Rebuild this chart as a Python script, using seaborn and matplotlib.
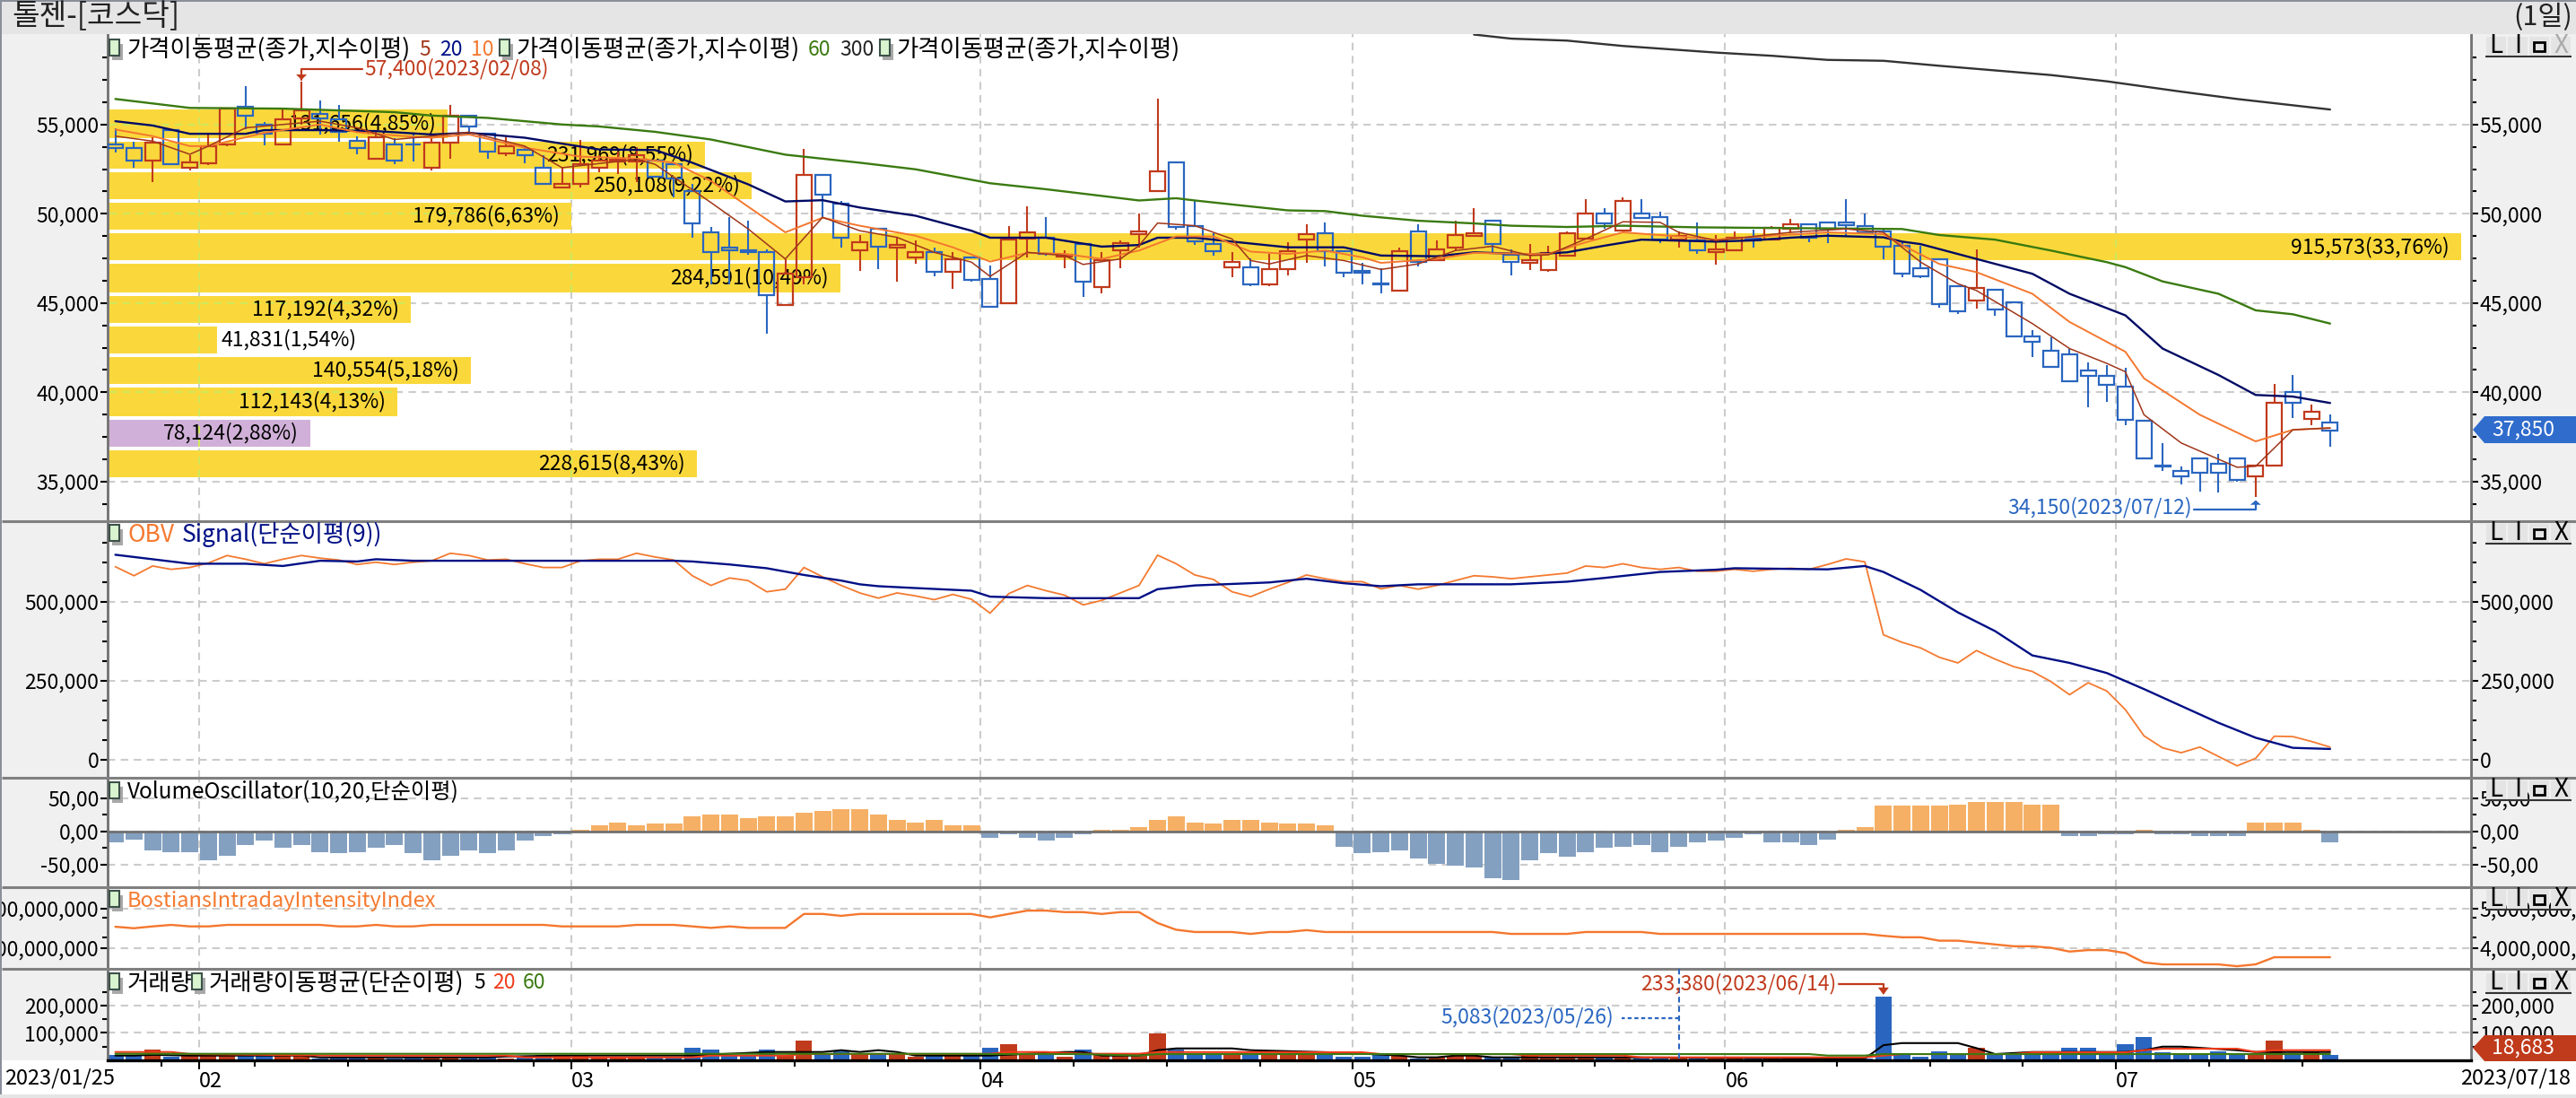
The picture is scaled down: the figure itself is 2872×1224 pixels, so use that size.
import numpy as np
import matplotlib
matplotlib.use("Agg")
import matplotlib.pyplot as plt
from matplotlib.patches import Rectangle, Polygon
import seaborn as sns

# candles, oldest first (2023/01/25 .. 2023/07/18)
opens = [53895,53693,52957,54700,52555,52840,53860,55985,54966,53860,
         55350,55575,55300,54095,53057,53895,53895,52555,53960,55500,
         54500,53360,53590,52590,51450,51667,52588,52930,52930,52957,
         52755,51280,48970,48100,47970,47850,44900,46460,52190,50580,
         47950,49170,48130,47530,47865,46725,47560,46350,45000,48600,
         48680,47580,48300,45880,47965,48865,51265,52900,49300,48300,
         46980,47000,46065,46880,48580,48900,47900,46815,46100,45680,
         49000,47400,48100,48765,49600,47700,47265,46865,47665,48600,
         50000,49065,50000,49800,48565,48500,47865,47965,48615,48565,
         49165,49400,49500,49500,49300,49000,48200,46950,47435,45950,
         45150,45740,45055,43120,42340,42120,41225,40930,40335,38420,
         35910,35575,36280,35985,36280,35280,35890,40000,38510,38305]
closes = [53693,52957,53995,52790,52890,53760,55910,55500,54500,55300,
          55800,55350,54600,53660,54263,52957,53860,53995,55500,54870,
          53460,53795,53260,51650,51667,52755,52957,53020,53260,52087,
          51950,49455,47865,47970,47850,45440,46640,52190,51080,48650,
          48430,48150,48280,47865,46725,47430,46320,44810,48570,48980,
          47765,47715,46180,47400,48380,49000,52400,49265,48480,47880,
          47300,46065,46900,47880,48880,47880,46680,46680,46060,47880,
          47300,47985,48800,48915,48300,47280,47415,47800,48900,50000,
          49465,50700,49780,48565,48765,47965,48015,48665,48515,49200,
          49400,48680,49180,49350,48965,48165,46665,46505,44945,44535,
          45835,44630,43120,42825,41410,40595,40930,40410,38475,36280,
          35835,35280,35500,35500,35075,35890,39405,39405,38920,37850]
highs = [54800,54012,54263,54700,53290,54515,55950,57140,55134,55930,
         57400,56340,56115,54330,54665,54230,54515,54263,56115,55500,
         54500,54300,53795,53290,52590,54130,53260,53480,53730,52957,
         52755,51667,49270,49820,49600,47985,47450,53630,52190,50720,
         48820,49170,48700,48490,48100,47865,47560,47080,49330,50430,
         49830,47930,48300,47830,48515,50015,56430,52900,50765,48930,
         47830,47515,47765,48430,49430,49515,47900,47230,46930,48100,
         49430,48515,49600,50315,49600,48000,48330,48230,49015,50835,
         50335,50930,50835,50130,49015,49515,48830,49015,49130,49330,
         49730,49400,49500,50835,50015,49130,48430,48215,47435,45950,
         47990,45740,45055,43475,43100,42450,41670,41525,41375,38420,
         37140,35855,36280,36540,36280,35890,40445,40965,39330,38735]
lows = [53425,52555,51750,52790,52420,52720,53800,54720,53845,53830,
        55000,54440,54045,53340,53057,52755,52920,52420,53057,54464,
        53057,53225,52840,51650,51450,51450,52340,52220,51750,52087,
        50915,48650,46060,46060,47710,43300,44900,46060,49835,48100,
        46810,46890,46190,47200,46520,45800,46220,44810,45000,47565,
        47665,46930,45350,45530,46930,48100,51265,49130,48265,47630,
        46430,45930,45930,46530,47235,47030,46430,46050,45530,45680,
        47065,47400,47930,48765,47850,46565,46850,46765,47665,48600,
        49180,49065,49780,48350,48130,47765,47130,47965,48130,48565,
        48930,48430,48350,48765,48965,47465,46465,46390,44720,44400,
        44685,44310,43120,41990,41410,40595,39180,39480,38180,36280,
        35575,34835,34460,34370,34980,34150,35890,38550,38140,36970]

# price moving averages, read at the bends
ma5_idx = [0,2,4,5,7,11,13,15,17,19,22,24,28,29,32,34,36,38,40,42,44,46,47,49,51,52,54,55,56,58,60,61,
           62,64,66,68,70,72,74,76,77,79,81,83,84,86,90,93,95,96,97,99,100,103,105,107,108,109,111,114,115,117,119]
ma5_val = [54350,54070,53330,53790,54815,55185,54815,54160,54350,54570,53790,52580,53050,52770,50630,49150,
           47470,49800,49050,48680,47840,47290,46490,47840,47660,47160,47470,48210,49480,49330,48590,47380,
           47190,47660,47380,46880,47190,47940,48180,47660,47700,48590,49550,49520,48960,48500,48960,49150,
           48960,48120,47290,46080,45700,43850,42450,41620,41150,38740,37160,35800,35855,37900,38000]
ma10_idx = [0,2,4,5,8,11,13,15,17,19,22,25,28,30,32,36,38,40,43,45,47,49,51,53,55,57,59,61,63,65,67,
            68,71,73,76,77,79,81,84,86,89,92,95,96,98,100,103,105,108,109,112,115,117,119]
ma10_val = [54720,54350,53790,53790,54535,55000,54570,54390,54260,54440,53700,53200,53090,52860,51840,
            48960,49780,49330,48770,48120,47320,47810,47750,47470,47940,48730,48730,47880,47750,47940,
            47560,47250,47470,47810,47750,47750,48400,48960,48730,48550,48770,48960,48860,48250,47190,
            46730,45520,43940,42270,40780,38740,37250,37900,38000]
ma20_idx = [0,2,4,7,8,11,14,17,19,22,26,29,31,34,36,38,40,43,46,47,50,53,55,56,58,60,63,66,68,71,
            73,76,78,80,82,86,88,90,92,95,96,97,100,103,105,108,110,113,115,117,119]
ma20_val = [55185,54945,54480,54480,54685,54685,54630,54440,54535,54260,53600,53570,52860,51650,50690,
            50760,50350,49890,49050,48660,48660,48160,48250,48660,48660,48440,48120,48120,47660,47620,
            47840,47730,47840,48210,48550,48440,48510,48660,48770,48680,48440,48300,47470,46640,45520,
            44310,42450,40970,39850,39760,39400]
ma60_idx = [0,4,9,15,17,20,24,26,29,32,36,40,43,47,50,53,55,57,58,61,63,65,67,70,73,75,78,81,85,96,
            98,101,104,107,108,110,113,115,117,119]
ma60_val = [56430,55930,55890,55690,55500,55370,55000,54890,54590,54160,53310,52860,52490,51710,51375,
            51000,50745,50870,50745,50410,50190,50150,49890,49610,49460,49330,49260,49330,49240,49145,
            48810,48550,47940,47290,47010,46210,45520,44590,44370,43850]
ma300_idx = [73,75,78,81,86,89,92,95,98,101,104,107,111,114,119]
ma300_val = [60040,59810,59700,59400,59030,58850,58620,58570,58290,58030,57770,57420,56840,56430,55840]

# volume profile
profile_vol = [131656,231969,250108,179786,915573,284591,117192,41831,140554,112143,78124,228615]
profile_lab = ["131,656(4,85%)","231,969(8,55%)","250,108(9,22%)","179,786(6,63%)","915,573(33,76%)",
               "284,591(10,49%)","117,192(4,32%)","41,831(1,54%)","140,554(5,18%)","112,143(4,13%)",
               "78,124(2,88%)","228,615(8,43%)"]
profile_low = [54238,52528,50818,49108,47398,45595,43885,42175,40465,38662,36952,35242]
profile_high = [55836,54033,52323,50613,48903,47193,45390,43680,41970,40260,38457,36747]

obv = [611460,583000,613800,603200,609100,623300,647000,635200,621000,635200,
       647000,638700,632800,618600,625700,618600,625700,630400,654100,647000,
       632800,635200,621000,609100,609100,630400,635200,635200,654100,642300,
       632800,583000,552200,575900,567600,532100,540400,609100,579500,552200,
       528500,512000,528500,519000,507200,523800,508400,464500,526100,552200,
       535600,521400,490600,504800,528500,552200,648200,620900,585400,571200,
       532100,516700,540400,561700,585400,573500,564100,564100,541500,552200,
       540400,552200,567600,583000,579500,573500,579500,585400,591300,613800,
       609100,620900,609100,603200,609100,597200,597200,603200,597200,603200,
       606700,603200,618600,636300,626900,395800,372100,354300,324700,306900,
       346000,318800,295100,279700,247700,206200,244100,218000,158800,75800,
       37900,22500,40300,10700,-19000,4700,74700,73500,58100,40300]
sig_idx = [0,2,4,7,9,11,13,14,16,30,31,33,35,37,39,40,41,43,46,47,50,55,56,58,62,64,66,68,70,75,78,80,83,
           86,87,92,94,95,97,99,101,103,105,107,109,111,113,115,117,119]
sig_val = [649400,635200,621000,621000,613800,630400,628100,635200,630400,630400,628100,618600,606700,
           585400,567600,555800,549800,543900,535600,516700,511900,511900,540400,552200,561700,573500,
           559300,549800,555800,555800,564100,575900,594900,602000,606700,603200,613800,594900,538000,
           466900,407600,330600,306900,274900,224000,170600,117300,69900,37900,34400]

vo = [-17,-12,-28,-31,-31,-44,-36,-20,-14,-25,-20,-31,-33,-31,-25,-20,-33,-44,-36,-28,
      -33,-28,-14,-7,-4,3,9,14,9,12,12,23,26,26,20,23,23,28,31,33,
      33,26,17,14,17,9,9,-9,-4,-9,-14,-9,-4,3,3,6,17,23,14,12,
      17,17,14,12,12,9,-23,-33,-31,-28,-41,-49,-52,-54,-71,-73,-44,-33,-38,-31,
      -25,-23,-20,-31,-23,-17,-14,-9,-4,-17,-17,-20,-12,3,6,39,39,39,39,41,
      44,44,44,41,41,-7,-7,-4,-4,3,-4,-4,-7,-7,-7,14,14,14,3,-17]

# in billions
bii = [4.543,4.505,4.552,4.59,4.552,4.552,4.59,4.59,4.59,4.59,
       4.59,4.59,4.552,4.552,4.59,4.552,4.552,4.59,4.59,4.59,
       4.59,4.59,4.59,4.59,4.552,4.552,4.552,4.552,4.59,4.59,
       4.59,4.552,4.514,4.552,4.514,4.514,4.514,4.867,4.867,4.819,
       4.867,4.867,4.867,4.867,4.867,4.867,4.867,4.781,4.867,4.952,
       4.952,4.914,4.914,4.867,4.914,4.914,4.638,4.467,4.41,4.41,
       4.41,4.362,4.41,4.41,4.457,4.41,4.41,4.41,4.41,4.41,
       4.41,4.41,4.41,4.41,4.41,4.362,4.362,4.362,4.362,4.41,
       4.41,4.41,4.41,4.362,4.362,4.362,4.362,4.362,4.362,4.362,
       4.362,4.362,4.362,4.362,4.362,4.314,4.276,4.276,4.19,4.19,
       4.143,4.095,4.048,4.048,4.01,3.914,3.952,3.952,3.876,3.638,
       3.59,3.59,3.59,3.59,3.543,3.59,3.771,3.771,3.771,3.771]

volume = [19600,15200,39100,13000,15200,15200,15200,15200,15200,15200,
          15200,6500,8700,8700,8700,6500,8700,8700,8700,8700,
          8700,6500,8700,19600,17400,15200,10900,10900,8700,8700,
          8700,45600,39100,15200,15200,39100,15200,71700,22800,33700,
          22800,22800,22800,13000,15200,15200,15200,45600,58700,22800,
          22800,13000,39100,22800,22800,22800,97800,39100,22800,22800,
          22800,19600,19600,19600,19600,19600,13000,13000,19600,15200,
          6500,8700,17400,15200,10900,10900,15200,10900,10900,10900,
          8700,8700,6500,6500,5083,6500,6500,8700,6500,8700,
          8700,6500,6500,6500,6500,233380,19600,13000,32600,19600,
          45600,19600,19600,19600,19600,45600,45600,19600,58700,84800,
          30000,19600,19600,32600,19600,19600,71700,19600,30000,18683]
vma5_idx = [0,1,2,4,10,11,12,20,21,24,25,29,31,33,35,37,38,39,40,41,42,43,47,49,51,52,53,55,56,57,60,61,
            66,69,70,71,72,73,74,81,91,94,95,96,99,100,101,103,108,109,110,111,114,115,116,119]
vma5_val = [17400,17400,20000,17400,17400,10900,10900,10900,14000,17400,17400,17400,17400,24000,30400,30400,
            30400,37000,30400,37000,30400,17400,17400,24000,30400,30400,17400,17400,37000,43500,43500,37000,
            28000,17400,10900,10900,17400,17400,10900,10900,6500,6500,55400,63000,63000,44600,22800,30400,
            30400,37000,50000,50000,37000,30400,30400,30400]
vma20_idx = [0,3,4,12,21,22,31,32,36,37,46,47,48,50,52,55,56,67,68,75,76,81,82,94,95,96,102,103,108,109,110,114,115,116,119]
vma20_val = [30400,30400,23000,17400,17400,10900,10900,17400,17400,23000,23000,24000,30400,30400,24000,24000,
             30400,29300,22800,22800,17400,17400,10900,10900,17400,22800,22800,29300,29300,37000,42400,42400,
             30400,37000,37000]
vma60_idx = [0,46,47,52,55,56,91,92,94,95,119]
vma60_val = [23900,23900,22800,22800,17400,22800,22800,17400,17400,22800,22800]

month_edges = [4.5,24.5,46.5,66.5,86.5,107.5]
month_labels = ["02","03","04","05","06","07"]
week_edges = [2.5,7.5,12.5,17.5,22.5,26.5,31.5,36.5,41.5,51.5,56.5,61.5,69.5,74.5,79.5,84.5,88.5,92.5,97.5,102.5,112.5,117.5]

W, H = 2872, 1224
AX_L, AX_R = 120, 2755
X0, DX = 128.6, 20.75
RED, BLUE = "#c03a1c", "#2a66c0"
GRID = "#cccccc"
LIME = "#cfe85a"
DASH = (0, (4, 3))

sns.set_theme(style="white")
plt.rcParams["font.family"] = ["Noto Sans CJK KR", "DejaVu Sans"]
plt.rcParams["axes.unicode_minus"] = False
FS = 16.5    # numbers and latin text
KFS = 19     # hangul legends

fig = plt.figure(figsize=(W / 100, H / 100), dpi=100, facecolor="white")


def panel(top, bottom, ylim):
    ax = fig.add_axes([AX_L / W, 1 - bottom / H, (AX_R - AX_L) / W, (bottom - top) / H])
    ax.set_ylim(*ylim)
    ax.set_axisbelow(True)
    return ax


def finish(ax, yticks, ylabels, yminor, xlabels=False):
    ax.set_xlim((AX_L - X0) / DX, (AX_R - X0) / DX)
    ax.set_xlabel("")
    ax.set_ylabel("")
    ax.set_xticks(month_edges)
    ax.set_xticks(week_edges, minor=True)
    ax.set_yticks(yticks)
    ax.set_yticklabels(ylabels, fontsize=FS, color="black")
    ax.set_yticks(yminor, minor=True)
    ax.grid(True, which="major", color=GRID, lw=1.5, ls=DASH)
    ax.tick_params(axis="y", which="major", left=True, right=True, labelleft=True, labelright=True,
                   length=6, width=1.5, color="black", pad=1)
    ax.tick_params(axis="y", which="minor", left=True, right=True, length=4.5, width=1.5, color="black")
    if xlabels:
        ax.set_xticklabels(month_labels, fontsize=17, ha="left", color="black")
        ax.tick_params(axis="x", which="major", bottom=True, length=7, width=1.5, color="black", pad=2)
        ax.tick_params(axis="x", which="minor", bottom=True, length=5, width=1.5, color="black")
    else:
        ax.tick_params(axis="x", which="both", bottom=False, labelbottom=False)
    for side in ("top", "bottom"):
        ax.spines[side].set_visible(False)
    for side in ("left", "right"):
        ax.spines[side].set_color("#707070")
        ax.spines[side].set_linewidth(2)


def line(ax, x, y, color, lw, z=4):
    sns.lineplot(x=x, y=y, ax=ax, color=color, linewidth=lw, errorbar=None, estimator=None,
                 sort=False, legend=False, zorder=z)


idx = np.arange(len(closes))
o, c, h, l = map(np.array, (opens, closes, highs, lows))
up = c >= o

# price panel
ax = panel(38, 581, (32779, 60065))
finish(ax, [35000, 40000, 45000, 50000, 55000], ["35,000", "40,000", "45,000", "50,000", "55,000"],
       [p for p in np.arange(33750, 60000, 1250) if p % 5000 != 0])
ax.set_xlim((AX_L - X0) / DX, (AX_R - X0) / DX)

# volume profile bars live on the candle x axis, scaled so the largest reaches its right end
prof_left = (122 - X0) / DX
prof_k = (2744 - 122) / DX / max(profile_vol)
for v, lab, lo, hi in zip(profile_vol, profile_lab, profile_low, profile_high):
    color = "#d0b0d8" if v == 78124 else "#fad83c"
    end = prof_left + v * prof_k
    ax.barh((lo + hi) / 2, v * prof_k, left=prof_left, height=hi - lo, color=color, linewidth=0, zorder=1)
    for p in (35000, 40000, 45000, 50000, 55000):
        if lo < p < hi:
            ax.hlines(p, prof_left, end, colors=LIME, lw=1.5, ls=DASH, zorder=1.5)
    for m in month_edges:
        if m < end:
            ax.vlines(m, lo, hi, colors=LIME, lw=1.5, ls=DASH, zorder=1.5)
    if v < 60000:
        ax.annotate(lab, (end, (lo + hi) / 2), xytext=(5, 0), textcoords="offset pixels",
                    ha="left", va="center", fontsize=FS, color="black", zorder=2)
    else:
        ax.annotate(lab, (end, (lo + hi) / 2), xytext=(-13, 0), textcoords="offset pixels",
                    ha="right", va="center", fontsize=FS, color="black", zorder=2)

# candles
colors = [RED if u else BLUE for u in up]
tops, bots = np.maximum(o, c), np.minimum(o, c)
ax.vlines(idx, tops, h, colors=colors, lw=1.5, zorder=3)
ax.vlines(idx, l, bots, colors=colors, lw=1.5, zorder=3)
ax.bar(idx, tops - bots, bottom=bots, width=0.82, fill=False, edgecolor=colors, linewidth=1.6, zorder=3)

line(ax, ma300_idx, ma300_val, "#333333", 1.7)
line(ax, ma60_idx, ma60_val, "#3a7a10", 1.7)
line(ax, ma20_idx, ma20_val, "#000a64", 1.7)
line(ax, ma10_idx, ma10_val, "#f4772e", 1.4)
line(ax, ma5_idx, ma5_val, "#a0361a", 1.1)
ax.set_ylim(32779, 60065)

# OBV
ax_obv = panel(581, 867, (-56818, 755682))
line(ax_obv, idx, obv, "#f47a30", 1.3)
line(ax_obv, sig_idx, sig_val, "#000f85", 1.7)
finish(ax_obv, [0, 250000, 500000], ["0", "250,000", "500,000"],
       [62500, 125000, 187500, 312500, 375000, 437500, 562500, 625000, 687500])
ax_obv.set_ylim(-56818, 755682)

# volume oscillator
ax_vo = panel(867, 989, (-84, 81))
sns.barplot(x=idx, y=vo, hue=["up" if v > 0 else "down" for v in vo], palette={"up": "#f5b066", "down": "#84a0c0"},
            native_scale=True, width=0.92, dodge=False, errorbar=None, saturation=1, linewidth=0,
            legend=False, ax=ax_vo, zorder=2)
ax_vo.axhline(0, color="#707070", lw=2, zorder=3)
finish(ax_vo, [-50, 0, 50], ["-50,00", "0,00", "50,00"], [-25, 25])
ax_vo.set_ylim(-84, 81)

# intraday intensity
ax_bii = panel(989, 1080, (3.477, 5.545))
line(ax_bii, idx, bii, "#f4772e", 1.7)
finish(ax_bii, [4, 5], ["4,000,000,000", "5,000,000,000"], [4.28, 4.78])
ax_bii.set_ylim(3.477, 5.545)

# volume
ax_vol = panel(1080, 1182, (0, 334426))
sns.barplot(x=idx, y=volume, hue=["u" if u else "d" for u in up], palette={"u": RED, "d": BLUE},
            native_scale=True, width=0.88, dodge=False, errorbar=None, saturation=1, linewidth=0,
            legend=False, ax=ax_vol, zorder=2)
line(ax_vol, vma5_idx, vma5_val, "black", 1.5)
line(ax_vol, vma20_idx, vma20_val, "#f03a1a", 1.5)
line(ax_vol, vma60_idx, vma60_val, "#3a7a10", 1.5)
finish(ax_vol, [100000, 200000], ["100,000", "200,000"], [50000, 150000, 250000], xlabels=True)
ax_vol.set_ylim(0, 334426)
ax_vol.spines["bottom"].set_visible(True)
ax_vol.spines["bottom"].set_color("black")
ax_vol.spines["bottom"].set_linewidth(2.4)

# window furniture behind and in front of the panels, in pixels
under = fig.add_axes([0, 0, 1, 1], zorder=-1)
under.set_xlim(0, W)
under.set_ylim(H, 0)
under.axis("off")
under.add_patch(Rectangle((0, 38), AX_L, 1144, color="#f0f0f0", lw=0))
under.add_patch(Rectangle((AX_R, 38), W - AX_R, 1144, color="#f0f0f0", lw=0))

ov = fig.add_axes([0, 0, 1, 1], zorder=10)
ov.set_xlim(0, W)
ov.set_ylim(H, 0)
ov.axis("off")
ov.patch.set_visible(False)


def to_px(a, x, y):
    return ov.transData.inverted().transform(a.transData.transform((x, y)))


def label(x, y, s, color="black", fs=FS, ha="left"):
    ov.text(x, y, s, color=color, fontsize=fs, ha=ha, va="center")


def icon(x, y):
    ov.add_patch(Rectangle((x + 3, y - 6), 12, 18, color="#a8a8a8", lw=0))
    ov.add_patch(Rectangle((x, y - 11), 11, 18, facecolor="#d8f5d0", edgecolor="#3c5048", lw=1.5))


ov.add_patch(Rectangle((0, 0), W, 38, color="#e5e5e5", lw=0))
ov.add_patch(Rectangle((0, 0), W, 2, color="#8a8f9c", lw=0))
ov.add_patch(Rectangle((0, 0), 2, H, color="#8a8f9c", lw=0))
ov.add_patch(Rectangle((0, 1220), W, 4, color="#e5e5e5", lw=0))
label(13, 19, "톨젠-[코스닥]", "#222222", 24)
label(2868, 19, "(1일)", "#222222", 22, ha="right")
for y in (581, 867, 989, 1080):
    ov.hlines(y, 2, W, colors="#808080", lw=2.2)

# panel legends
icon(122, 55)
label(142, 55, "가격이동평균(종가,지수이평)", fs=KFS)
label(467, 55, "5", "#a0361a")
label(490, 55, "20", "#000f85")
label(525, 55, "10", "#f4772e")
icon(557, 55)
label(576, 55, "가격이동평균(종가,지수이평)", fs=KFS)
label(901, 55, "60", "#3a7a10")
label(936, 55, "300", "#222222")
icon(981, 55)
label(1000, 55, "가격이동평균(종가,지수이평)", fs=KFS)
icon(122, 596)
label(142, 596, "OBV", "#f47a30", KFS)
label(203, 596, "Signal(단순이평(9))", "#000f85", KFS)
icon(122, 883)
label(142, 883, "VolumeOscillator(10,20,단순이평)", fs=17.5)
icon(122, 1004)
label(142, 1004, "BostiansIntradayIntensityIndex", "#f47a30", 17)
icon(122, 1096)
label(142, 1096, "거래량", fs=KFS)
icon(214, 1096)
label(233, 1096, "거래량이동평균(단순이평)", fs=KFS)
label(528, 1096, "5")
label(549, 1096, "20", "#f03a1a")
label(583, 1096, "60", "#3a7a10")

# high / low callouts
px, py = to_px(ax, int(np.argmax(h)), max(highs))
ov.plot([px, px, px + 68], [py - 2, 77, 77], color=RED, lw=1.6)
ov.add_patch(Polygon([(px - 6, py - 8), (px + 6, py - 8), (px, py - 2)], color=RED, lw=0))
label(px + 70, 77, "57,400(2023/02/08)", RED)

px, py = to_px(ax, int(np.argmin(l)), min(lows))
ov.plot([px, px, px - 69], [py + 5, 568, 568], color=BLUE, lw=1.6)
ov.add_patch(Polygon([(px - 6, py + 9), (px + 6, py + 9), (px, py + 4)], color=BLUE, lw=0))
label(px - 71, 566, "34,150(2023/07/12)", BLUE, ha="right")

px, py = to_px(ax_vol, int(np.argmax(volume)), max(volume))
ov.plot([px, px, px - 50], [py - 4, 1097, 1097], color=RED, lw=1.6)
ov.add_patch(Polygon([(px - 6, py - 10), (px + 6, py - 10), (px, py - 2)], color=RED, lw=0))
label(px - 53, 1097, "233,380(2023/06/14)", RED, ha="right")

px, py = to_px(ax_vol, int(np.argmin(volume)), min(volume))
ov.plot([px, px], [1080, 1182], color=BLUE, lw=1.5, ls=(0, (3, 2)))
ov.plot([px, px - 64], [1135, 1135], color=BLUE, lw=1.6, ls=(0, (2, 1.4)))
label(px - 72, 1134, "5,083(2023/05/26)", BLUE, ha="right")

# last value tags
ov.add_patch(Polygon([(2757, 479), (2770, 464), (W, 464), (W, 494), (2770, 494)], color="#2f6ccc", lw=0))
label(2813, 479, "37,850", "white", ha="center")
ov.add_patch(Polygon([(2757, 1168), (2770, 1154), (W, 1154), (W, 1183), (2770, 1183)], color=RED, lw=0))
label(2813, 1168, "18,683", "white", ha="center")

# date ends
label(5, 1202, "2023/01/25", fs=17)
label(2866, 1202, "2023/07/18", fs=17, ha="right")

# panel buttons
for n, y in enumerate((41, 584, 870, 992, 1085)):
    for k, sym in enumerate(["L", "I", "▫", "X"]):
        x = 2772 + 24 * k
        ov.add_patch(Rectangle((x, y), 22, 22, color="#e4e4e4", lw=0))
        ov.hlines(y + 22, x - 1, x + 23, colors="#333333", lw=1.5)
        col = "#aaaaaa" if (n == 0 and sym == "X") else "black"
        if sym == "▫":
            ov.add_patch(Rectangle((x + 5, y + 6), 12, 10, fill=False, edgecolor="black", lw=2))
        else:
            ov.text(x + 11, y + 10, sym, color=col, fontsize=20, ha="center", va="center")

fig.savefig("out.png", dpi=100)
